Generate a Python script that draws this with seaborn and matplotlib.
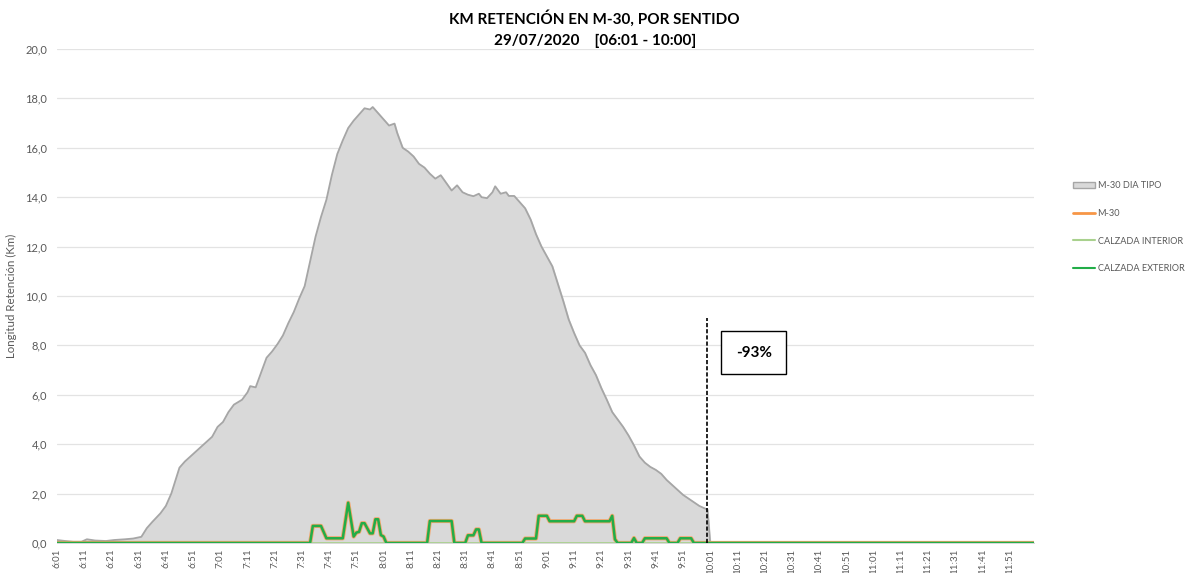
import numpy as np
import pandas as pd
import seaborn as sns
from matplotlib import pyplot as plt
from matplotlib.patches import Patch
from matplotlib.lines import Line2D

#
# Data
#

# one category per minute, 6:01 .. 12:00
categories = [f"{(6 * 60 + 1 + i) // 60}:{(6 * 60 + 1 + i) % 60:02d}" for i in range(360)]
tick_labels = categories[::10]

# M-30 DIA TIPO (grey area), only up to 10:00
tipo_t = ["6:01", "6:04", "6:07", "6:10", "6:12", "6:15", "6:19", "6:22", "6:26", "6:29",
          "6:32", "6:34", "6:36", "6:39", "6:41", "6:43", "6:45", "6:46", "6:48", "6:50",
          "6:52", "6:54", "6:56", "6:58", "7:00", "7:02", "7:04", "7:06", "7:09", "7:11",
          "7:12", "7:14", "7:16", "7:18", "7:20", "7:22", "7:24", "7:26", "7:28", "7:30",
          "7:32", "7:34", "7:36", "7:38", "7:40", "7:42", "7:44", "7:46", "7:48", "7:50",
          "7:52", "7:54", "7:56", "7:57", "7:59", "8:01", "8:03", "8:05", "8:06", "8:08",
          "8:10", "8:12", "8:14", "8:16", "8:18", "8:20", "8:22", "8:24", "8:26", "8:28",
          "8:30", "8:32", "8:34", "8:36", "8:37", "8:39", "8:41", "8:42", "8:44", "8:46",
          "8:47", "8:49", "8:51", "8:53", "8:55", "8:57", "8:59", "9:01", "9:03", "9:05",
          "9:07", "9:09", "9:11", "9:13", "9:15", "9:17", "9:19", "9:21", "9:23", "9:25",
          "9:27", "9:29", "9:31", "9:33", "9:35", "9:37", "9:39", "9:41", "9:43", "9:45",
          "9:47", "9:49", "9:51", "9:53", "9:55", "9:57", "9:59", "10:00", "10:01", "12:00"]
tipo_v = [0.12, 0.08, 0.05, 0.05, 0.15, 0.10, 0.08, 0.12, 0.15, 0.18,
          0.25, 0.60, 0.85, 1.20, 1.50, 2.00, 2.70, 3.05, 3.30, 3.50,
          3.70, 3.90, 4.10, 4.30, 4.70, 4.90, 5.30, 5.60, 5.80, 6.10,
          6.35, 6.30, 6.90, 7.50, 7.75, 8.05, 8.40, 8.90, 9.35, 9.90,
          10.40, 11.40, 12.40, 13.20, 13.90, 14.90, 15.75, 16.30, 16.80, 17.10,
          17.35, 17.60, 17.55, 17.65, 17.40, 17.15, 16.90, 16.98, 16.60, 16.00,
          15.85, 15.65, 15.35, 15.20, 14.95, 14.75, 14.89, 14.58, 14.27, 14.48,
          14.20, 14.10, 14.04, 14.14, 14.00, 13.96, 14.20, 14.44, 14.14, 14.20,
          14.05, 14.05, 13.80, 13.55, 13.10, 12.50, 12.00, 11.60, 11.20, 10.50,
          9.80, 9.05, 8.50, 8.00, 7.70, 7.20, 6.80, 6.27, 5.80, 5.30,
          5.00, 4.70, 4.35, 3.95, 3.50, 3.25, 3.08, 2.96, 2.80, 2.55,
          2.35, 2.15, 1.95, 1.80, 1.65, 1.50, 1.40, 1.35, 0.00, 0.00]

# CALZADA EXTERIOR (and M-30, which equals it)
ext_t = ["6:01", "7:34", "7:35", "7:38", "7:40", "7:46", "7:48", "7:50", "7:51", "7:52",
         "7:53", "7:54", "7:56", "7:57", "7:58", "7:59", "8:00", "8:01", "8:02", "8:17",
         "8:18", "8:26", "8:27", "8:31", "8:32", "8:34", "8:35", "8:36", "8:37", "8:52",
         "8:53", "8:57", "8:58", "9:01", "9:02", "9:11", "9:12", "9:14", "9:15", "9:24",
         "9:25", "9:26", "9:27", "9:32", "9:33", "9:34", "9:36", "9:37", "9:45", "9:46",
         "9:49", "9:50", "9:54", "9:55", "12:00"]
ext_v = [0.00, 0.00, 0.69, 0.69, 0.19, 0.19, 1.63, 0.26, 0.42, 0.45,
         0.80, 0.80, 0.39, 0.39, 0.96, 0.96, 0.32, 0.26, 0.00, 0.00,
         0.89, 0.89, 0.00, 0.00, 0.31, 0.31, 0.55, 0.55, 0.00, 0.00,
         0.18, 0.18, 1.10, 1.10, 0.88, 0.88, 1.10, 1.10, 0.88, 0.88,
         1.10, 0.15, 0.00, 0.00, 0.20, 0.00, 0.00, 0.19, 0.19, 0.00,
         0.00, 0.19, 0.19, 0.00, 0.00]
m30_v = list(ext_v)

# CALZADA INTERIOR
int_t = ["6:01", "12:00"]
int_v = [0.0, 0.0]

#
# Plotting
#

sns.set_style("white")
plt.rcParams['font.family'] = ['Lato', 'DejaVu Sans']

pos = {c: i for i, c in enumerate(categories)}
tipo_x = [pos[t] for t in tipo_t]
ext_x = [pos[t] for t in ext_t]
int_x = [pos[t] for t in int_t]

fig = plt.figure(figsize=(11.92, 5.73), dpi=100)
ax = fig.add_axes([0.0478, 0.0524, 0.8197, 0.8621])

ax.fill_between(tipo_x, tipo_v, color="#D9D9D9", zorder=1)
sns.lineplot(x=tipo_x, y=tipo_v, color="#A6A6A6", linewidth=1.3, ax=ax, zorder=2)
sns.lineplot(x=ext_x, y=m30_v, color="#F4A46A", linewidth=3.0, ax=ax, zorder=3)
sns.lineplot(x=int_x, y=int_v, color="#A9D18E", linewidth=2.0, ax=ax, zorder=4)
sns.lineplot(x=ext_x, y=ext_v, color="#22AD48", linewidth=1.8, ax=ax, zorder=5)

# limit line at 10:00 and the drop
ax.plot([pos["10:00"], pos["10:00"]], [0, 9.1], color="black", linestyle=(0, (2.5, 1.2)),
        linewidth=1.2, zorder=6)
ax.text(pos["10:17"], 7.7, "-93%", ha="center", va="center", fontsize=11,
        fontweight="bold", color="black",
        bbox=dict(boxstyle="square,pad=0.95", facecolor="white", edgecolor="black",
                  linewidth=1.0), zorder=7)

ax.set_xlim(0, 359)
ax.set_ylim(0, 20)
ax.set_yticks(np.arange(0, 21, 2))
ax.set_yticklabels([f"{v:.1f}".replace(".", ",") for v in np.arange(0, 21, 2)],
                   fontsize=8, color="#595959")
ax.set_xticks(range(0, 360, 10))
ax.set_xticklabels(tick_labels, rotation=90, fontsize=7, color="#595959")
ax.tick_params(axis="both", length=0, pad=4)
ax.tick_params(axis="y", pad=7)
ax.yaxis.grid(True, color="#E3E3E3", linewidth=0.9)
ax.set_axisbelow(True)
for s in ax.spines.values():
    s.set_visible(False)

ax.set_ylabel("Longitud Retención (Km)", fontsize=8.3, color="#595959", labelpad=6)
ax.set_xlabel("")

fig.text(0.499, 0.968, "KM RETENCIÓN EN M-30, POR SENTIDO", ha="center", va="center",
         fontsize=11, fontweight="bold", color="black")
fig.text(0.499, 0.929, "29/07/2020    [06:01 - 10:00]", ha="center", va="center",
         fontsize=11, fontweight="bold", color="black")

handles = [Patch(facecolor="#D9D9D9", edgecolor="#A6A6A6", linewidth=1.0),
           Line2D([], [], color="#F79646", linewidth=2.0),
           Line2D([], [], color="#A9D18E", linewidth=1.5),
           Line2D([], [], color="#22AD48", linewidth=1.5)]
names = ["M-30 DIA TIPO", "M-30", "CALZADA INTERIOR", "CALZADA EXTERIOR"]
leg = fig.legend(handles, names, loc="upper left", bbox_to_anchor=(0.9, 0.684),
                 frameon=False, fontsize=6.6, labelspacing=2.05, handlelength=2.4,
                 handleheight=0.7, handletextpad=0.3, borderpad=0, borderaxespad=0)
for t in leg.get_texts():
    t.set_color("#595959")

plt.savefig("out.png", dpi=100)
